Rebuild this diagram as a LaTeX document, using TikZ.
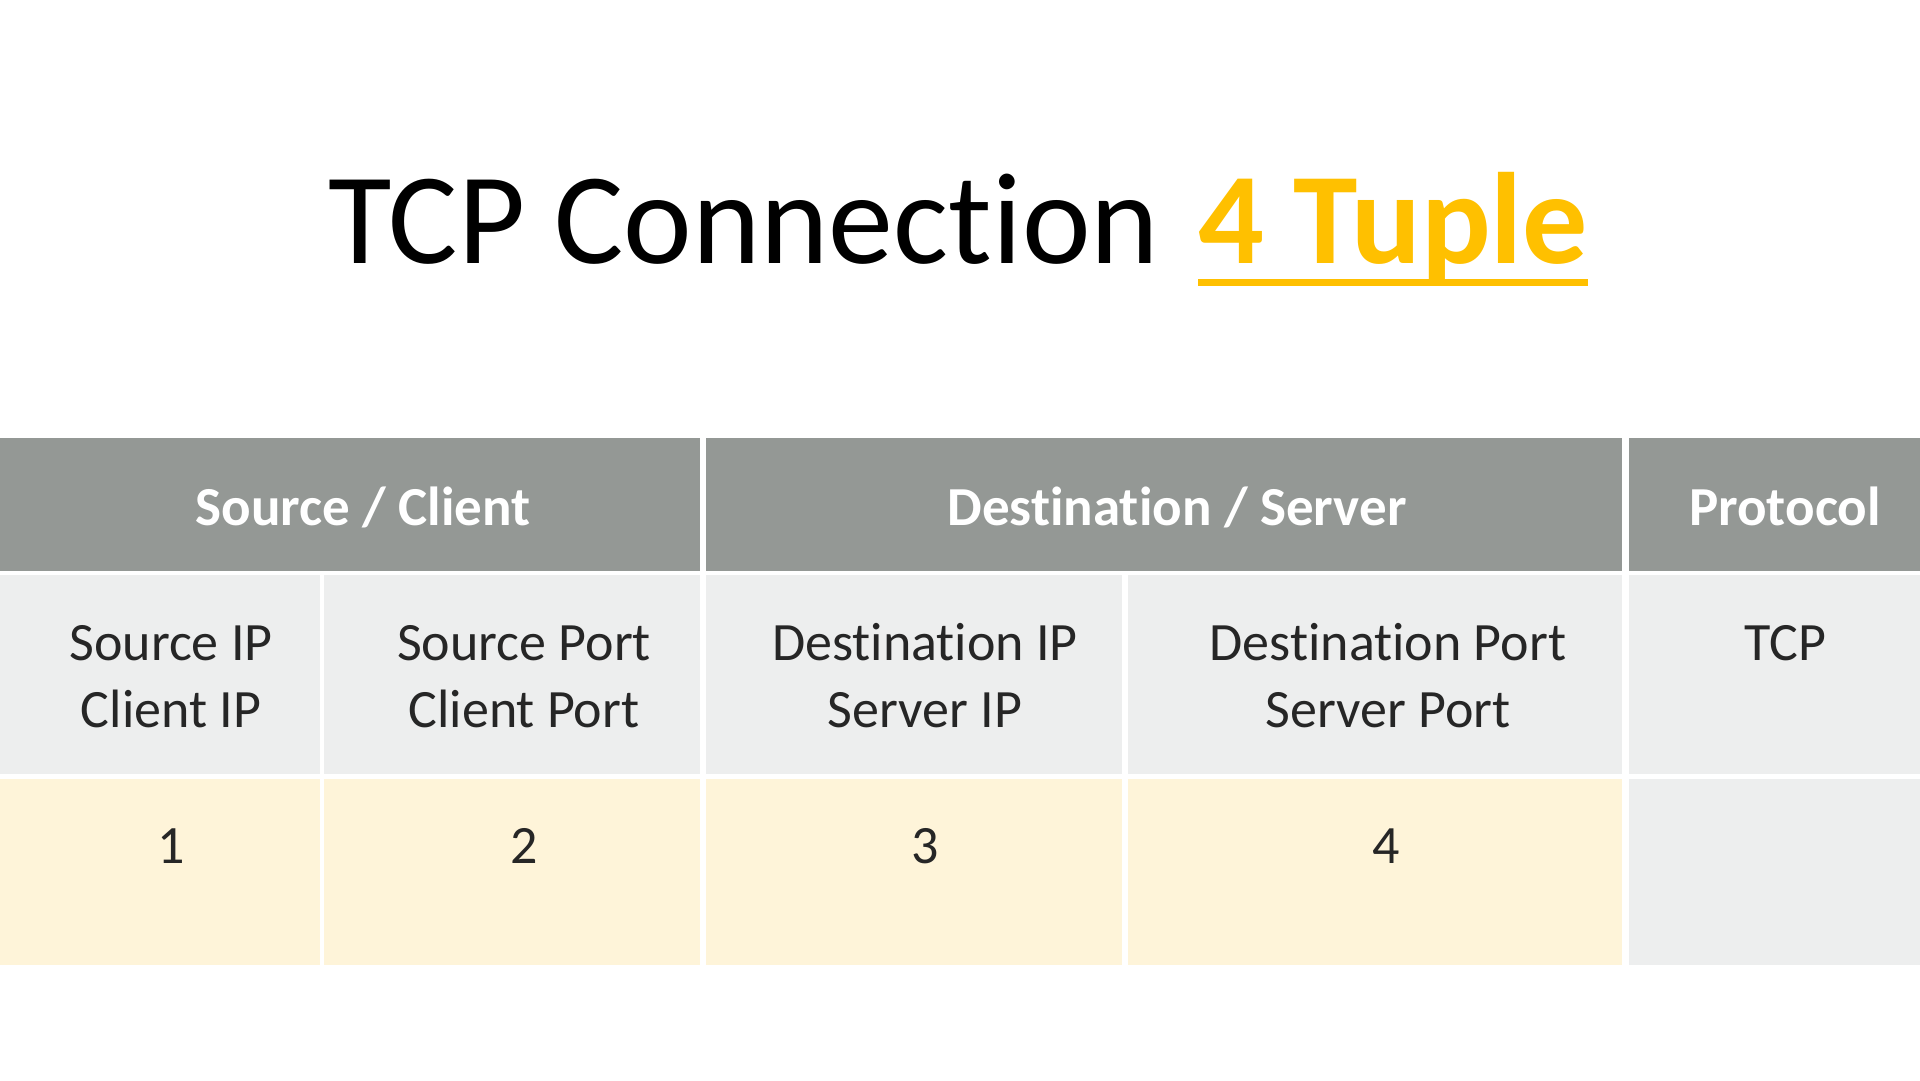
\documentclass[tikz,border=0pt]{standalone}
\usepackage{fontspec}
\setmainfont{Carlito}[Ligatures=NoCommon]
\usepackage{tikz}
\usetikzlibrary{calc}
\definecolor{headgray}{HTML}{949895}
\definecolor{cellgray}{HTML}{EDEEEE}
\definecolor{cellcream}{HTML}{FEF4D9}
\definecolor{tuplegold}{HTML}{FFC000}
\definecolor{textdark}{HTML}{262626}
\tikzset{
   head/.style={fill=headgray},
   field/.style={fill=cellgray},
   slot/.style={fill=cellcream},
   titletext/.style={anchor=base west, inner sep=0pt,
      font=\fontsize{130}{156}\selectfont},
   headtext/.style={anchor=base, inner sep=0pt, text=white,
      font=\fontsize{55}{66}\selectfont\bfseries},
   fieldtext/.style={anchor=base, inner sep=0pt, text=textdark, align=center,
      font=\fontsize{54}{67}\selectfont},
    }
\begin{document}
\begin{tikzpicture}[x=1pt,y=1pt]
            \useasboundingbox[fill=white] (0,0) rectangle (1920,1080);
            \node[titletext] (tcpname) at (328,816) {TCP Connection};
            \node[titletext, text=tuplegold, font=\fontsize{130}{156}\selectfont\bfseries] (tuple) at (1198,816) {4 Tuple};
            \draw[tuplegold, line width=7pt] ($(tuple.base west)+(0,-19)$) -- ($(tuple.base east)+(0,-19)$);
            \fill[head] (0,509) rectangle (700,642);
            \fill[head] (706,509) rectangle (1622,642);
            \fill[head] (1629,509) rectangle (1920,642);
            \foreach \l/\r in {0/320,324/700,706/1122,1128/1622,1629/1920}
               \fill[field] (\l,306) rectangle (\r,505);
            \foreach \l/\r in {0/320,324/700,706/1122,1128/1622}
               \fill[slot] (\l,115) rectangle (\r,301);
            \fill[field] (1629,115) rectangle (1920,301);
            \node[headtext] (client) at (363,554) {Source / Client};
            \node[headtext] (server) at (1177,554) {Destination / Server};
            \node[headtext] (proto) at (1785,554) {Protocol};
            % two-line cells sit on the baseline of their last line
            \node[fieldtext] (srcip) at (171,352) {Source IP\\Client IP};
            \node[fieldtext] (srcport) at (524,352) {Source Port\\Client Port};
            \node[fieldtext] (dstip) at (925,352) {Destination IP\\Server IP};
            \node[fieldtext] (dstport) at (1388,352) {Destination Port\\Server Port};
            \node[fieldtext] (tcp) at (1785,419) {TCP};
            \node[fieldtext] (one) at (171,217) {1};
            \node[fieldtext] (two) at (524,217) {2};
            \node[fieldtext] (three) at (925,217) {3};
            \node[fieldtext] (four) at (1386,217) {4};
        \end{tikzpicture}
\end{document}
